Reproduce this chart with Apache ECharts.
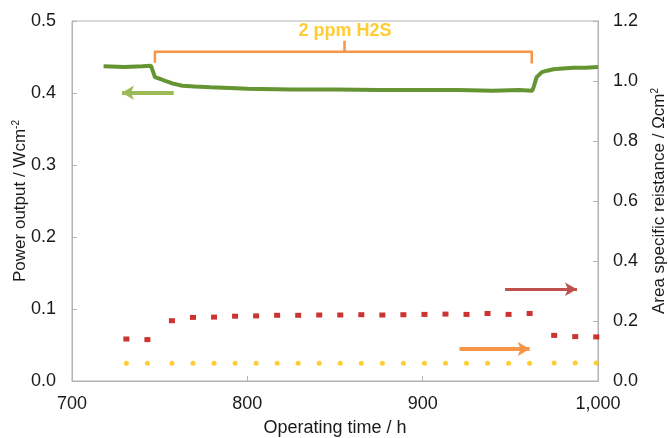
<!DOCTYPE html>
<html>
<head>
<meta charset="utf-8">
<script src="https://cdn.jsdelivr.net/npm/echarts@6/dist/echarts.min.js"></script>
<style>
  html, body { margin: 0; padding: 0; background: #ffffff; }
  #chart { width: 668px; height: 438px; }
</style>
</head>
<body>
<div id="chart"></div>
<script>
// power output (left axis), [hours, W/cm2]
var powerHours = [718, 730, 740, 745, 747.3, 751, 754, 757.6, 763, 770, 779, 790, 800, 825, 850, 875, 900, 920, 940, 955, 962.5, 963.5, 965, 968, 971, 974.5, 980, 986, 993, 1000];
var powerValues = [0.437, 0.436, 0.437, 0.438, 0.422, 0.419, 0.416, 0.413, 0.410, 0.409, 0.408, 0.407, 0.406, 0.405, 0.405, 0.404, 0.404, 0.404, 0.403, 0.404, 0.403, 0.410, 0.422, 0.429, 0.431, 0.433, 0.434, 0.435, 0.435, 0.436];

// area specific resistance (right axis), [hours, ohm cm2]
var asrHours = [731, 743, 757, 769, 781, 793, 805, 817, 829, 841, 853, 865, 877, 889, 901, 913, 925, 937, 949, 961, 975, 987, 999];
var asrRed = [0.140, 0.138, 0.201, 0.212, 0.213, 0.216, 0.217, 0.219, 0.219, 0.220, 0.220, 0.221, 0.220, 0.221, 0.222, 0.223, 0.222, 0.225, 0.222, 0.225, 0.152, 0.148, 0.147];
var asrYellow = [0.059, 0.059, 0.059, 0.059, 0.059, 0.059, 0.059, 0.059, 0.059, 0.059, 0.059, 0.059, 0.059, 0.059, 0.059, 0.059, 0.059, 0.059, 0.059, 0.059, 0.060, 0.060, 0.060];

// annotation anchors in data units
var bracketPts = [[747.3, 0.442], [747.3, 0.4574], [962.2, 0.4574], [962.2, 0.441]];
var bracketMid = [[855.3, 0.4574], [855.3, 0.4726]];
var bracketText = [855.7, 0.4866];
var greenArrow = [[758, 0.4004], [728.5, 0.4004]];
var redArrow = [[947, 0.3057], [988, 0.3057]];
var orangeArrow = [[921, 0.1067], [961, 0.1067]];

var xTicks = ['700', '800', '900', '1,000'];

function zip(xs, ys) {
  var out = [];
  for (var i = 0; i < xs.length; i++) out.push([xs[i], ys[i]]);
  return out;
}

var axisGray = '#b3b3b3';
var txt = '#1a1a1a';
var fam = 'Liberation Sans, Arial, sans-serif';
var supStyle = { fontSize: 10, verticalAlign: 'top', color: txt, padding: [0, 0, 9, 0] };

var chart = echarts.init(document.getElementById('chart'));
chart.setOption({
  animation: false,
  textStyle: { fontFamily: fam },
  grid: {
    left: 72, right: 70, top: 21, bottom: 57,
    outerBoundsMode: 'none', containLabel: false,
    show: true, borderColor: axisGray, borderWidth: 1
  },
  xAxis: {
    type: 'value', min: 700, max: 1000, interval: 100,
    name: 'Operating time / h', nameLocation: 'middle', nameGap: 38,
    nameTextStyle: { fontSize: 18, color: txt, fontFamily: fam },
    axisLine: { show: true, lineStyle: { color: axisGray } },
    axisTick: { show: true, inside: true, length: 5, lineStyle: { color: axisGray } },
    axisLabel: { fontSize: 18, color: txt, margin: 14, formatter: function (v) { return xTicks[(v - 700) / 100]; } },
    splitLine: { show: false }
  },
  yAxis: [{
    type: 'value', min: 0, max: 0.5, interval: 0.1,
    name: 'Power output / Wcm{sup|-2}', nameLocation: 'middle', nameGap: 42, nameMoveOverlap: false,
    nameTextStyle: { fontSize: 17, color: txt, fontFamily: fam, rich: { sup: supStyle } },
    axisLine: { show: true, lineStyle: { color: axisGray } },
    axisTick: { show: true, inside: true, length: 5, lineStyle: { color: axisGray } },
    axisLabel: { fontSize: 18, color: txt, margin: 16, formatter: function (v) { return v.toFixed(1); } },
    splitLine: { show: false }
  }, {
    type: 'value', min: 0, max: 1.2, interval: 0.2, position: 'right',
    name: 'Area specific reistance / Ωcm{sup|2}', nameLocation: 'middle', nameGap: 52, nameRotate: 90,
    nameTextStyle: { fontSize: 17, color: txt, fontFamily: fam, rich: { sup: supStyle } },
    axisLine: { show: true, lineStyle: { color: axisGray } },
    axisTick: { show: true, inside: true, length: 5, lineStyle: { color: axisGray } },
    axisLabel: { fontSize: 18, color: txt, margin: 15, formatter: function (v) { return v.toFixed(1); } },
    splitLine: { show: false }
  }],
  series: [
    {
      name: 'power', type: 'line', yAxisIndex: 0, data: zip(powerHours, powerValues),
      showSymbol: false, lineStyle: { color: '#659432', width: 4 }, z: 3
    },
    {
      name: 'asr red', type: 'scatter', yAxisIndex: 1, data: zip(asrHours, asrRed),
      symbol: 'rect', symbolSize: [6, 5], itemStyle: { color: '#c00000' }
    },
    {
      name: 'asr yellow', type: 'scatter', yAxisIndex: 1, data: zip(asrHours, asrYellow),
      symbol: 'circle', symbolSize: 5, itemStyle: { color: '#ffc000' }
    },
    {
      name: 'bracket', type: 'line', yAxisIndex: 0, data: bracketPts,
      showSymbol: false, silent: true, lineStyle: { color: '#f79646', width: 2.5, join: 'round' },
      markLine: {
        silent: true, symbol: 'none', label: { show: false },
        lineStyle: { color: '#f79646', width: 2.5, type: 'solid' },
        data: [[{ coord: bracketMid[0] }, { coord: bracketMid[1] }]]
      }
    },
    {
      name: 'bracket text', type: 'scatter', yAxisIndex: 0, data: [bracketText],
      symbolSize: 0, silent: true,
      label: { show: true, position: 'inside', formatter: '2 ppm H2S', color: '#ffc000', fontWeight: 'bold', fontSize: 18, fontFamily: fam }
    },
    {
      name: 'arrows left', type: 'line', yAxisIndex: 0, data: [],
      markLine: {
        silent: true, symbol: ['none', 'arrow'], symbolSize: [11, 12], label: { show: false },
        lineStyle: { color: '#9bbb59', width: 4, type: 'solid' },
        data: [[{ coord: greenArrow[0] }, { coord: greenArrow[1] }]]
      }
    },
    {
      name: 'arrows right red', type: 'line', yAxisIndex: 1, data: [],
      markLine: {
        silent: true, symbol: ['none', 'arrow'], symbolSize: [10, 12], label: { show: false },
        lineStyle: { color: '#c0504d', width: 3, type: 'solid' },
        data: [[{ coord: redArrow[0] }, { coord: redArrow[1] }]]
      }
    },
    {
      name: 'arrows right orange', type: 'line', yAxisIndex: 1, data: [],
      markLine: {
        silent: true, symbol: ['none', 'arrow'], symbolSize: [11, 12], label: { show: false },
        lineStyle: { color: '#f79646', width: 4, type: 'solid' },
        data: [[{ coord: orangeArrow[0] }, { coord: orangeArrow[1] }]]
      }
    }
  ]
});
</script>
</body>
</html>
